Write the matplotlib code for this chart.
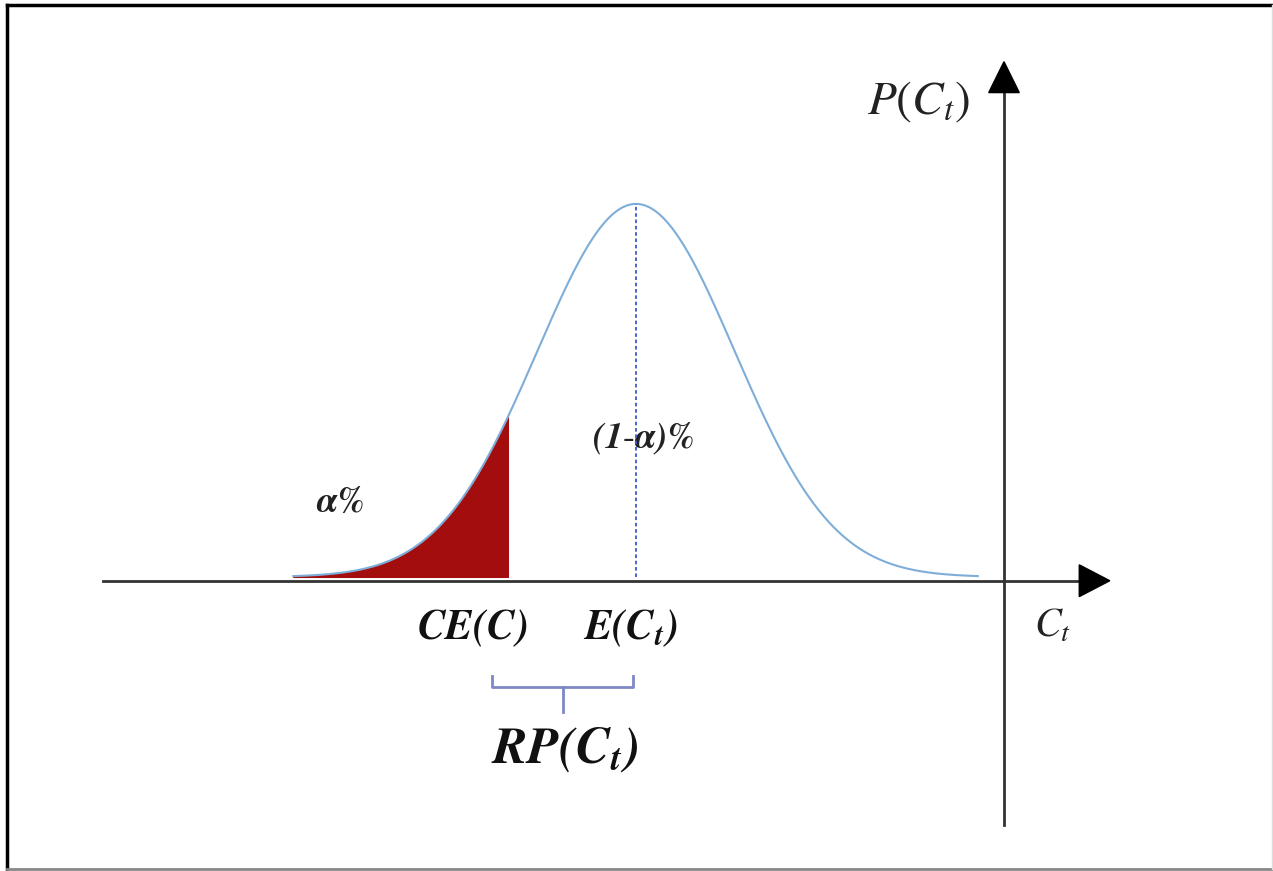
import numpy as np
import matplotlib.pyplot as plt
from matplotlib.patches import FancyArrow

plt.rcParams['mathtext.fontset'] = 'stix'
plt.rcParams['font.family'] = ['STIXGeneral', 'DejaVu Serif']

# distribution (in units of sigma, mean at 0)
mu = 0.0
sigma = 1.0
ce = -1.30          # certainty equivalent CE(C)
curve_lo, curve_hi = -3.48, 3.47

# axis positions
x_axis_y = -0.004
x_axis_from, x_axis_to = -5.41, 4.81
y_axis_x = 3.736
y_axis_from, y_axis_to = -0.265, 0.551

# bracket for RP(C_t)
br_left, br_right, br_mid = -1.46, -0.03, -0.745
br_y, br_top, br_bot = -0.118, -0.106, -0.144


def normal_pdf(v):
    return np.exp(-0.5 * ((v - mu) / sigma) ** 2) / (sigma * np.sqrt(2 * np.pi))


x = np.linspace(curve_lo, curve_hi, 600)
pdf = normal_pdf(x)
peak = normal_pdf(mu)

fig = plt.figure(figsize=(12.73, 8.71), dpi=100)
ax = fig.add_axes([0, 0, 1, 1])
ax.set_xlim(-6.457, 6.467)
ax.set_ylim(-0.3144, 0.617)
ax.axis('off')

# frame (top, left, bottom, faint right)
ax.plot([0.0055, 1.0], [0.9943, 0.9943], transform=ax.transAxes, color='black', lw=2.5, clip_on=False)
ax.plot([0.0055, 0.0055], [0.9943, 0.0023], transform=ax.transAxes, color='black', lw=2.5, clip_on=False)
ax.plot([0.0055, 1.0], [0.0023, 0.0023], transform=ax.transAxes, color='#888888', lw=2, clip_on=False)
ax.plot([0.9992, 0.9992], [0.9943, 0.0023], transform=ax.transAxes, color='#dddddd', lw=1, clip_on=False)

# shaded alpha tail
xs = np.append(x[x < ce], ce)
ax.fill_between(xs, 0, normal_pdf(xs), color='#a30d0d', lw=0.8, edgecolor='#a30d0d', zorder=2)

# curve
ax.plot(x, pdf, color='#7eaed8', lw=1.5, zorder=3)

# mean line
ax.plot([mu, mu], [0, peak], color='#3b5cc4', lw=1.3, ls=(0, (2, 1.5)), zorder=4)

# axes with arrows
ax.plot([x_axis_from, x_axis_to - 0.28], [x_axis_y, x_axis_y], color='#333333', lw=2, zorder=5)
ax.add_patch(FancyArrow(x_axis_to - 0.31, x_axis_y, 0.31, 0, width=0, head_width=0.034,
                        head_length=0.31, length_includes_head=True, color='black', zorder=6))
ax.plot([y_axis_x, y_axis_x], [y_axis_from, y_axis_to - 0.03], color='#333333', lw=2, zorder=5)
ax.add_patch(FancyArrow(y_axis_x, y_axis_to - 0.033, 0, 0.033, width=0, head_width=0.31,
                        head_length=0.033, length_includes_head=True, color='black', zorder=6))

# bracket
ax.plot([br_left, br_left, br_right, br_right], [br_top, br_y, br_y, br_top],
        color='#7f88c6', lw=2, solid_joinstyle='round', zorder=4)
ax.plot([br_mid, br_mid], [br_y, br_bot], color='#7f88c6', lw=2, zorder=4)

# labels
ax.text(2.87, 0.508, r'$P(C_t)$', fontsize=34, ha='center', va='center', color='#222222')
ax.text(4.23, -0.053, r'$C_t$', fontsize=29, ha='center', va='center', color='#222222')
ax.text(-1.66, -0.055, r'$\mathbfit{CE(C)}$', fontsize=30, ha='center', va='center', color='#111111')
ax.text(-0.06, -0.055, r'$\mathbfit{E(C_t)}$', fontsize=30, ha='center', va='center', color='#111111')
ax.text(-0.72, -0.185, r'$\mathbfit{RP(C_t)}$', fontsize=37, ha='center', va='center', color='#111111')
ax.text(0.07, 0.148, r'$\mathbfit{(1\text{-}\alpha)\%}$', fontsize=26, ha='center', va='center', color='#222222')
ax.text(-3.0, 0.079, r'$\mathbfit{\alpha\%}$', fontsize=26, ha='center', va='center', color='#222222')

fig.savefig('out.png', dpi=100)
